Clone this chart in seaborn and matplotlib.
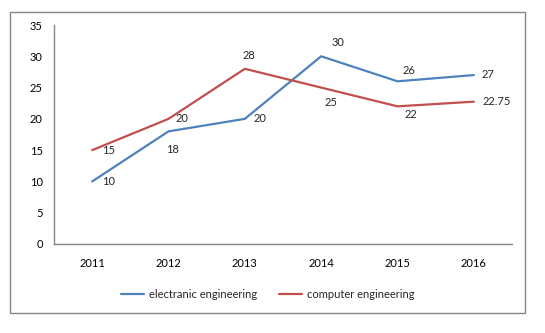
import matplotlib
matplotlib.use("Agg")
import matplotlib.pyplot as plt
from matplotlib.patches import Rectangle
import seaborn as sns
import pandas as pd

years = ["2011", "2012", "2013", "2014", "2015", "2016"]
electranic = [10, 18, 20, 30, 26, 27]
computer = [15, 20, 28, 25, 22, 22.75]
electranic_labels = ["10", "18", "20", "30", "26", "27"]
computer_labels = ["15", "20", "28", "25", "22", "22.75"]
series_names = ["electranic engineering", "computer engineering"]
y_ticks = [0, 5, 10, 15, 20, 25, 30, 35]

sns.set_theme(style="white")
plt.rcParams["font.family"] = ["Lato", "DejaVu Sans"]

df = pd.DataFrame({
    "year": years * 2,
    "value": electranic + computer,
    "series": [series_names[0]] * len(years) + [series_names[1]] * len(years),
})

fig = plt.figure(figsize=(5.45, 3.33), dpi=100)
ax = fig.add_axes([54 / 545, 1 - 244 / 333, (512 - 54) / 545, (244 - 25) / 333])

palette = {series_names[0]: "#4F81BD", series_names[1]: "#C0504D"}
sns.lineplot(data=df, x="year", y="value", hue="series", palette=palette,
             linewidth=1.6, ax=ax, legend=True, sort=False)

ax.set_xlim(-0.5, len(years) - 0.5)
ax.set_ylim(0, 35)
ax.set_yticks(y_ticks)
ax.set_yticklabels([str(t) for t in y_ticks])
ax.set_xlabel("")
ax.set_ylabel("")
for s in ["top", "right"]:
    ax.spines[s].set_visible(False)
for s in ["left", "bottom"]:
    ax.spines[s].set_color("#868686")
    ax.spines[s].set_linewidth(1.0)
ax.tick_params(axis="both", length=0, labelsize=8, colors="black")
ax.tick_params(axis="y", pad=8)
ax.tick_params(axis="x", pad=10)
ax.grid(False)

blue_off = [(10, 0), (-2, -18), (9, 0), (10, 14), (5, 11), (8, 1)]
red_off = [(10, 0), (7, 0), (-2, 13), (3, -15), (7, -8), (9, 0)]
for i in range(len(years)):
    ax.annotate(electranic_labels[i], (i, electranic[i]), xytext=blue_off[i],
                textcoords="offset pixels", ha="left", va="center", fontsize=8)
    ax.annotate(computer_labels[i], (i, computer[i]), xytext=red_off[i],
                textcoords="offset pixels", ha="left", va="center", fontsize=8)

handles, labels = ax.get_legend_handles_labels()
ax.get_legend().remove()
fig.legend(handles, labels, loc="center", bbox_to_anchor=(268 / 545, 1 - 294 / 333),
           ncol=2, frameon=False, fontsize=8, handlelength=2.0, columnspacing=2.0,
           handletextpad=0.5)

fig.patches.append(Rectangle((10 / 545, 1 - 313 / 333), 515 / 545, 301 / 333,
                             transform=fig.transFigure, fill=False,
                             edgecolor="#868686", linewidth=1.0))

fig.savefig("out.png", dpi=100)
